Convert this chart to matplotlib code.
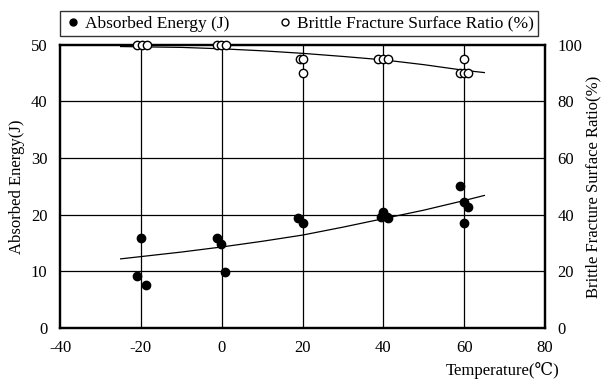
import numpy as np
import matplotlib
matplotlib.use("Agg")
import matplotlib.pyplot as plt
from matplotlib.lines import Line2D

plt.rcParams['font.family'] = ['Liberation Serif', 'DejaVu Serif']
plt.rcParams['axes.unicode_minus'] = False

# Charpy test results: absorbed energy (J)
energy_temp = [-20.9, -20.0, -18.8, -1.2, -0.2, 0.7, 19.0, 20.0,
               39.5, 40.0, 40.8, 41.2, 59.0, 60.0, 61.0, 60.0]
energy_val = [9.2, 15.9, 7.5, 15.8, 14.9, 9.9, 19.5, 18.6,
              19.6, 20.4, 19.6, 19.5, 25.1, 22.3, 21.3, 18.6]

# brittle fracture surface ratio (%)
ratio_temp = [-21.0, -19.8, -18.6, -1.2, -0.1, 1.0, 19.3, 20.1, 20.0,
              38.7, 40.0, 41.2, 60.0, 59.0, 60.0, 61.0]
ratio_val = [100, 100, 100, 100, 100, 100, 95, 95, 90,
             95, 95, 95, 95, 90, 90, 90]

# trend curves
trend_temp = [-25, -10, 0, 10, 20, 30, 40, 50, 60, 65]
energy_trend = [12.2, 13.4, 14.3, 15.3, 16.4, 17.8, 19.3, 20.8, 22.5, 23.4]
ratio_trend = [99.4, 99.1, 98.6, 97.9, 97.0, 95.9, 94.7, 93.0, 91.0, 90.2]

fig = plt.figure(figsize=(6.02, 3.80), dpi=100)
ax = fig.add_axes([0.0997, 0.137, 0.8056, 0.745])
ax2 = ax.twinx()

ax.plot(trend_temp, energy_trend, color='black', lw=0.9, zorder=3)
ax2.plot(trend_temp, ratio_trend, color='black', lw=0.9, zorder=3)

ax.plot(energy_temp, energy_val, 'o', color='black', ms=6, zorder=4)
ax2.plot(ratio_temp, ratio_val, 'o', mfc='white', mec='black', mew=1.0,
         ms=6, zorder=4, clip_on=False)

ax.set_xlim(-40, 80)
ax.set_ylim(0, 50)
ax2.set_ylim(0, 100)
ax.set_xticks(range(-40, 81, 20))
ax.set_yticks(range(0, 51, 10))
ax2.set_yticks(range(0, 101, 20))

for x in range(-20, 61, 20):
    ax.axvline(x, color='black', lw=0.9, zorder=1)
for y in range(10, 41, 10):
    ax.axhline(y, color='black', lw=0.9, zorder=1)

for a_ in (ax, ax2):
    a_.tick_params(length=0, labelsize=12, pad=9)
    for s in a_.spines.values():
        s.set_linewidth(1.6)

ax.set_ylabel('Absorbed Energy(J)', fontsize=12, labelpad=4)
ax2.set_ylabel('Brittle Fracture Surface Ratio(%)', fontsize=12, labelpad=2)
fig.text(0.835, 0.012, 'Temperature(\u2103)', fontsize=12, ha='center')

handles = [
    Line2D([], [], marker='o', ls='none', color='black', ms=5),
    Line2D([], [], marker='o', ls='none', mfc='white', mec='black', ms=5),
]
leg = fig.legend(handles, ['Absorbed Energy (J)', 'Brittle Fracture Surface Ratio (%)'],
                 loc='lower center', bbox_to_anchor=(0.497, 0.905), ncol=2,
                 fontsize=12.5, frameon=True, fancybox=False, handletextpad=0.2,
                 columnspacing=2.7, borderpad=0.25, handlelength=1.0,
                 borderaxespad=0)
leg.get_frame().set_edgecolor('black')
leg.get_frame().set_linewidth(1.0)

fig.savefig('out.png', dpi=100)
